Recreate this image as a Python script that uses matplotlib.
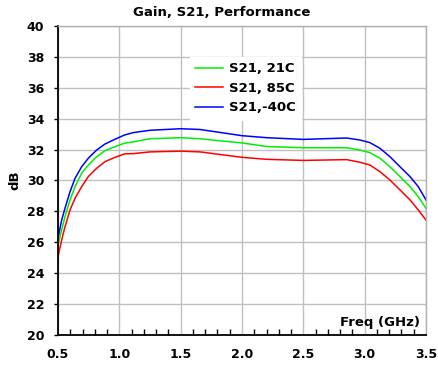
import matplotlib
matplotlib.use('Agg')
from matplotlib import pyplot as plt
from matplotlib.ticker import MultipleLocator, FormatStrFormatter

plt.rcParams['font.family'] = ['DejaVu Sans']
plt.rcParams['font.weight'] = 'bold'

# frequency points (GHz)
freq = [0.5, 0.53, 0.557, 0.598, 0.639, 0.693, 0.747, 0.815, 0.883, 0.965, 1.041,
        1.114, 1.25, 1.5, 1.658, 2.0, 2.201, 2.5, 2.853, 2.962, 3.043, 3.125,
        3.206, 3.288, 3.37, 3.437, 3.5]

s21_21c = [25.83, 26.8, 27.66, 28.74, 29.6, 30.47, 31.0, 31.54, 31.93, 32.19, 32.41,
           32.5, 32.7, 32.77, 32.7, 32.43, 32.2, 32.12, 32.12, 31.97, 31.8, 31.44,
           30.89, 30.25, 29.6, 28.95, 28.2]
s21_85c = [25.07, 26.15, 27.0, 28.09, 28.85, 29.6, 30.25, 30.79, 31.22, 31.5, 31.72,
           31.74, 31.85, 31.9, 31.85, 31.5, 31.37, 31.3, 31.35, 31.18, 31.0, 30.57,
           30.03, 29.39, 28.74, 28.09, 27.44]
s21_m40c = [26.26, 27.44, 28.2, 29.27, 30.14, 30.89, 31.44, 31.97, 32.36, 32.67, 32.94,
            33.1, 33.25, 33.35, 33.3, 32.9, 32.77, 32.66, 32.75, 32.62, 32.45, 32.08,
            31.54, 30.89, 30.25, 29.6, 28.74]

labels = ['S21, 21C', 'S21, 85C', 'S21,-40C']
colors = ['#00ee00', '#ff0000', '#0000ff']

fig = plt.figure(figsize=(4.38, 3.71), dpi=100)
ax = fig.add_axes([0.1324, 0.097, 0.8402, 0.833])

for ys, lab, c in zip([s21_21c, s21_85c, s21_m40c], labels, colors):
	ax.plot(freq, ys, color=c, lw=1.1, label=lab)

ax.set_xlim(0.5, 3.5)
ax.set_ylim(20, 40)
ax.xaxis.set_major_locator(MultipleLocator(0.5))
ax.xaxis.set_minor_locator(MultipleLocator(0.1))
ax.yaxis.set_major_locator(MultipleLocator(2))
ax.xaxis.set_major_formatter(FormatStrFormatter('%.1f'))
ax.grid(True, which='major', color='#c0c0c0', lw=1)
ax.set_axisbelow(True)

ax.tick_params(axis='x', which='major', length=0, pad=9, labelsize=9)
ax.tick_params(axis='x', which='minor', direction='in', length=4, width=1)
ax.tick_params(axis='y', which='major', direction='out', length=3, width=1, labelsize=9, pad=7)

for s in ['left', 'bottom']:
	ax.spines[s].set_color('black')
	ax.spines[s].set_linewidth(1.3)
for s in ['top', 'right']:
	ax.spines[s].set_color('#b0b0b0')
	ax.spines[s].set_linewidth(1)

# title is centred on the figure, not the axes
fig.text(0.505, 0.967, 'Gain, S21, Performance', ha='center', va='center',
	fontsize=9.5, fontweight='bold')
ax.set_ylabel('dB', fontsize=9.5, fontweight='bold', labelpad=4)
ax.text(0.985, 0.042, 'Freq (GHz)', transform=ax.transAxes, ha='right', va='center',
	fontsize=9.5, fontweight='bold')

leg = ax.legend(loc='upper left', bbox_to_anchor=(0.358, 0.9), frameon=True,
	fontsize=9.5, handlelength=2.1, handletextpad=0.45, labelspacing=0.5,
	borderaxespad=0, borderpad=0.4, fancybox=False)
leg.get_frame().set_edgecolor('white')
leg.get_frame().set_facecolor('white')
leg.get_frame().set_alpha(1)
for t in leg.get_texts():
	t.set_fontweight('bold')

fig.savefig('out.png', dpi=100)
